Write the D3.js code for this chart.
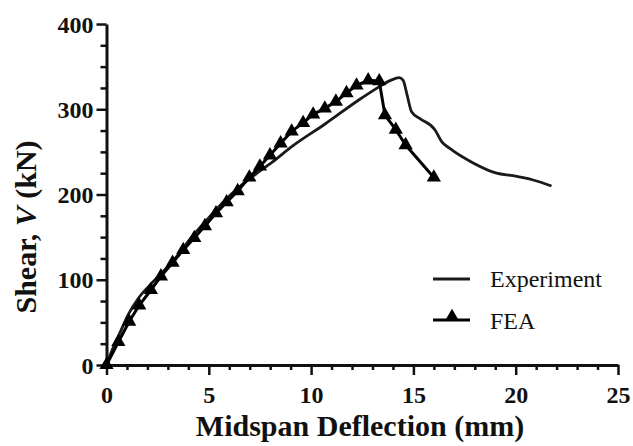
<!DOCTYPE html>
<html><head><meta charset="utf-8">
<script src="https://cdn.jsdelivr.net/npm/d3@7"></script>
<style>
html,body{margin:0;padding:0;background:#fff;}
svg{display:block;}
text{font-family:"Liberation Serif","Times New Roman",serif;}
</style></head>
<body>
<svg id="chart" width="633" height="446"></svg>
<script>
// Data
const xTicks = [0, 5, 10, 15, 20, 25];
const yTicks = [0, 100, 200, 300, 400];
const seriesNames = ["Experiment", "FEA"];
const experimentX = [0, 0.3, 0.66, 1.06, 1.55, 2.13, 2.70, 3.35, 4.16, 4.97, 5.95, 6.60, 7.30, 8.10, 9.10, 10.70, 12.40, 13.30, 13.80, 14.10, 14.30, 14.50, 14.67, 14.91, 15.32, 16.05, 16.38, 16.78, 17.92, 19.06, 19.87, 20.85, 21.75];
const experimentV = [0, 19, 38, 59, 78, 94, 108, 125, 150, 172, 197, 211, 224, 238, 257, 283, 312, 326, 333, 336, 337, 334, 319, 297, 289, 276, 262, 254, 237, 225, 222, 217, 210];
const feaX = [0, 0.58, 1.11, 1.60, 2.17, 2.66, 3.23, 3.75, 4.29, 4.81, 5.35, 5.87, 6.41, 6.98, 7.50, 7.99, 8.51, 9.05, 9.61, 10.10, 10.67, 11.21, 11.73, 12.22, 12.79, 13.33, 13.61, 14.14, 14.62, 16.0];
const feaV = [0, 27, 51, 70, 88, 104, 120, 135, 149, 163, 178, 191, 204, 220, 233, 246, 260, 274, 284, 294, 301, 309, 319, 328, 334, 333, 293, 276, 258, 220];

const svg = d3.select("#chart");
svg.append("rect").attr("width", 633).attr("height", 446).attr("fill", "#fff");

const x = d3.scaleLinear().domain([0, 25]).range([106.5, 618]);
const y = d3.scaleLinear().domain([0, 400]).range([365, 24]);

const expData = experimentX.map((d, i) => [d, experimentV[i]]);
const feaData = feaX.map((d, i) => [d, feaV[i]]);

// minor ticks
const xMinor = d3.range(0, 26, 1).filter(v => v % 5 !== 0);
const yMinor = d3.range(0, 401, 25).filter(v => v % 100 !== 0);

const gx = svg.append("g").attr("transform", "translate(0,365)");
gx.call(d3.axisBottom(x).tickValues(xMinor).tickSize(5).tickFormat("").tickSizeOuter(0));
gx.call(g => g.selectAll(".domain").remove());
const gx2 = svg.append("g").attr("transform", "translate(0,365)");
gx2.call(d3.axisBottom(x).tickValues(xTicks).tickSize(10).tickSizeOuter(0).tickFormat(d3.format("d")));

const gy = svg.append("g").attr("transform", "translate(106.5,0)");
gy.call(d3.axisLeft(y).tickValues(yMinor).tickSize(6).tickFormat("").tickSizeOuter(0));
gy.call(g => g.selectAll(".domain").remove());
const gy2 = svg.append("g").attr("transform", "translate(106.5,0)");
gy2.call(d3.axisLeft(y).tickValues(yTicks).tickSize(10).tickSizeOuter(0).tickFormat(d3.format("d")));

svg.selectAll(".tick line").attr("stroke", "#111").attr("stroke-width", 2.5);
svg.selectAll(".domain").attr("stroke", "#111").attr("stroke-width", 3);
svg.selectAll(".tick text").attr("fill", "#111").attr("font-size", 24).attr("font-weight", "bold")
  .attr("font-family", "Liberation Serif, Times New Roman, serif");
gx2.selectAll(".tick text").attr("y", 38).attr("dy", 0);
gy2.selectAll(".tick text").attr("x", -13).attr("dy", "0.34em");

// lines
const line = d3.line().x(d => x(d[0])).y(d => y(d[1]));
svg.append("path").datum(expData)
  .attr("d", line.curve(d3.curveMonotoneX))
  .attr("fill", "none").attr("stroke", "#1a1a1a").attr("stroke-width", 2.8).attr("stroke-linejoin", "round");
const line2 = d3.line().x(d => x(d[0])).y(d => y(d[1]));
svg.append("path").datum(feaData)
  .attr("d", line2)
  .attr("fill", "none").attr("stroke", "#000").attr("stroke-width", 3).attr("stroke-linejoin", "round");

const tri = d3.symbol().type(d3.symbolTriangle).size(88);
svg.append("g").selectAll("path").data(feaData).join("path")
  .attr("transform", d => `translate(${x(d[0])},${y(d[1])})`)
  .attr("d", tri).attr("fill", "#000");

// axis titles
svg.append("text").attr("x", 360).attr("y", 436).attr("text-anchor", "middle")
  .attr("font-size", 30).attr("font-weight", "bold").attr("fill", "#111")
  .text("Midspan Deflection (mm)");
const yt = svg.append("text").attr("transform", "translate(36,227) rotate(-90)")
  .attr("text-anchor", "middle").attr("font-size", 30).attr("font-weight", "bold").attr("fill", "#111");
yt.append("tspan").text("Shear, ");
yt.append("tspan").attr("font-style", "italic").text("V");
yt.append("tspan").text(" (kN)");

// legend
const lg = svg.append("g");
lg.append("line").attr("x1", 433).attr("x2", 470).attr("y1", 279).attr("y2", 279)
  .attr("stroke", "#1a1a1a").attr("stroke-width", 3);
lg.append("text").attr("x", 490).attr("y", 287).attr("font-size", 24).attr("fill", "#111").text(seriesNames[0]);
lg.append("line").attr("x1", 433).attr("x2", 470).attr("y1", 320).attr("y2", 320)
  .attr("stroke", "#000").attr("stroke-width", 3);
lg.append("path").attr("transform", "translate(452,317)").attr("d", tri).attr("fill", "#000");
lg.append("text").attr("x", 490).attr("y", 329).attr("font-size", 24).attr("fill", "#111").text(seriesNames[1]);
</script>
</body></html>
